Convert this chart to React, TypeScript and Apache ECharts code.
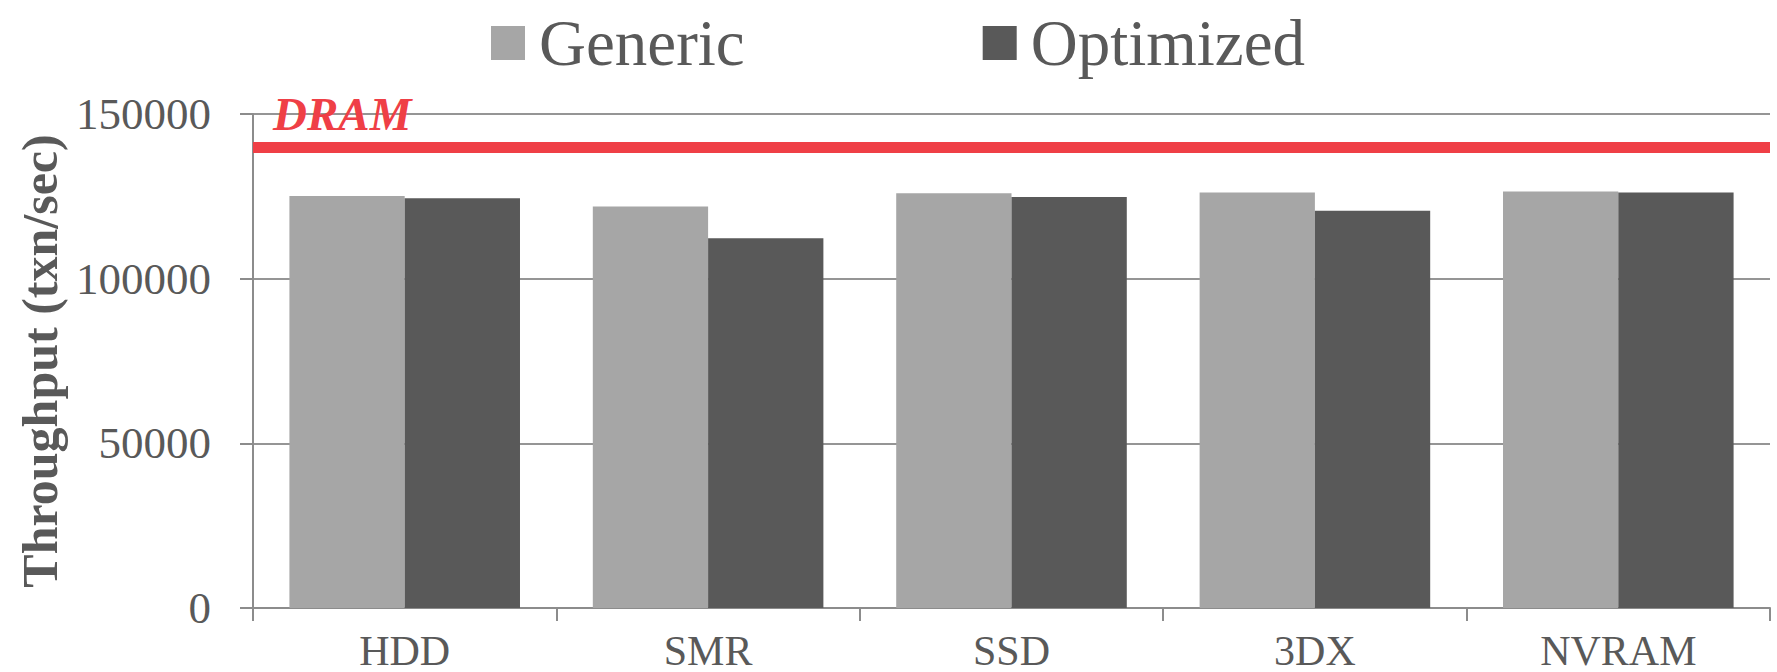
import React, { useEffect, useRef } from "react";
import * as echarts from "echarts";

const categories = ["HDD", "SMR", "SSD", "3DX", "NVRAM"];
const genericValues = [125100, 121900, 125900, 126200, 126500];
const optimizedValues = [124400, 112300, 124800, 120600, 126200];
const dramValue = 140000;
const seriesNames = ["Generic", "Optimized"];
const yTicks = { min: 0, max: 150000, interval: 50000 };

const FONT = "'Liberation Serif', 'Times New Roman', serif";
const TEXT = "#595959";
const AXIS = "#8c8c8c";
const RED = "#ef3f46";

export default function App() {
  const ref = useRef<HTMLDivElement>(null);
  useEffect(() => {
    if (!ref.current) return;
    const chart = echarts.init(ref.current, undefined, { renderer: "svg" });
    chart.setOption({
      animation: false,
      backgroundColor: "#ffffff",
      textStyle: { fontFamily: FONT },
      legend: {
        left: 491,
        top: 2,
        padding: 0,
        itemWidth: 34,
        itemHeight: 34,
        itemGap: 238,
        icon: "rect",
        data: seriesNames,
        textStyle: {
          fontFamily: FONT,
          fontSize: 65,
          lineHeight: 62,
          color: TEXT,
          padding: [0, 0, 20, 9],
        },
      },
      grid: {
        left: 253,
        right: 7,
        top: 114,
        bottom: 64,
        containLabel: false,
        outerBoundsMode: "none",
      },
      xAxis: {
        type: "category",
        data: categories,
        boundaryGap: true,
        axisLine: { show: true, lineStyle: { color: AXIS, width: 2 } },
        axisTick: { show: true, length: 13, lineStyle: { color: AXIS, width: 2 } },
        axisLabel: {
          fontFamily: FONT,
          fontSize: 42,
          lineHeight: 30,
          color: TEXT,
          margin: 28,
        },
      },
      yAxis: {
        type: "value",
        min: yTicks.min,
        max: yTicks.max,
        interval: yTicks.interval,
        name: "Throughput (txn/sec)",
        nameLocation: "middle",
        nameGap: 184,
        nameTextStyle: {
          fontFamily: FONT,
          fontSize: 50,
          fontWeight: "bold",
          color: TEXT,
        },
        axisLine: { show: true, lineStyle: { color: AXIS, width: 2 } },
        axisTick: { show: true, length: 13, lineStyle: { color: AXIS, width: 2 } },
        splitLine: { show: true, lineStyle: { color: "#959595", width: 2 } },
        axisLabel: {
          fontFamily: FONT,
          fontSize: 45,
          color: TEXT,
          margin: 42,
          formatter: (v: number) => String(v),
        },
      },
      series: [
        {
          name: seriesNames[0],
          type: "bar",
          data: genericValues,
          itemStyle: { color: "#a6a6a6" },
          barGap: "0%",
          barCategoryGap: "24%",
          markLine: {
            silent: true,
            symbol: "none",
            data: [{ yAxis: dramValue }],
            lineStyle: { color: RED, width: 11, type: "solid" },
            label: {
              show: true,
              formatter: "DRAM",
              position: "insideStartTop",
              distance: [20, 9],
              color: RED,
              fontFamily: FONT,
              fontSize: 47,
              fontStyle: "italic",
              fontWeight: "bold",
            },
          },
        },
        {
          name: seriesNames[1],
          type: "bar",
          data: optimizedValues,
          itemStyle: { color: "#595959" },
          barGap: "0%",
          barCategoryGap: "24%",
        },
      ],
    });
    return () => chart.dispose();
  }, []);
  return (
    <div
      ref={ref}
      style={{ position: "fixed", left: 0, top: 0, width: 1777, height: 672 }}
    />
  );
}
